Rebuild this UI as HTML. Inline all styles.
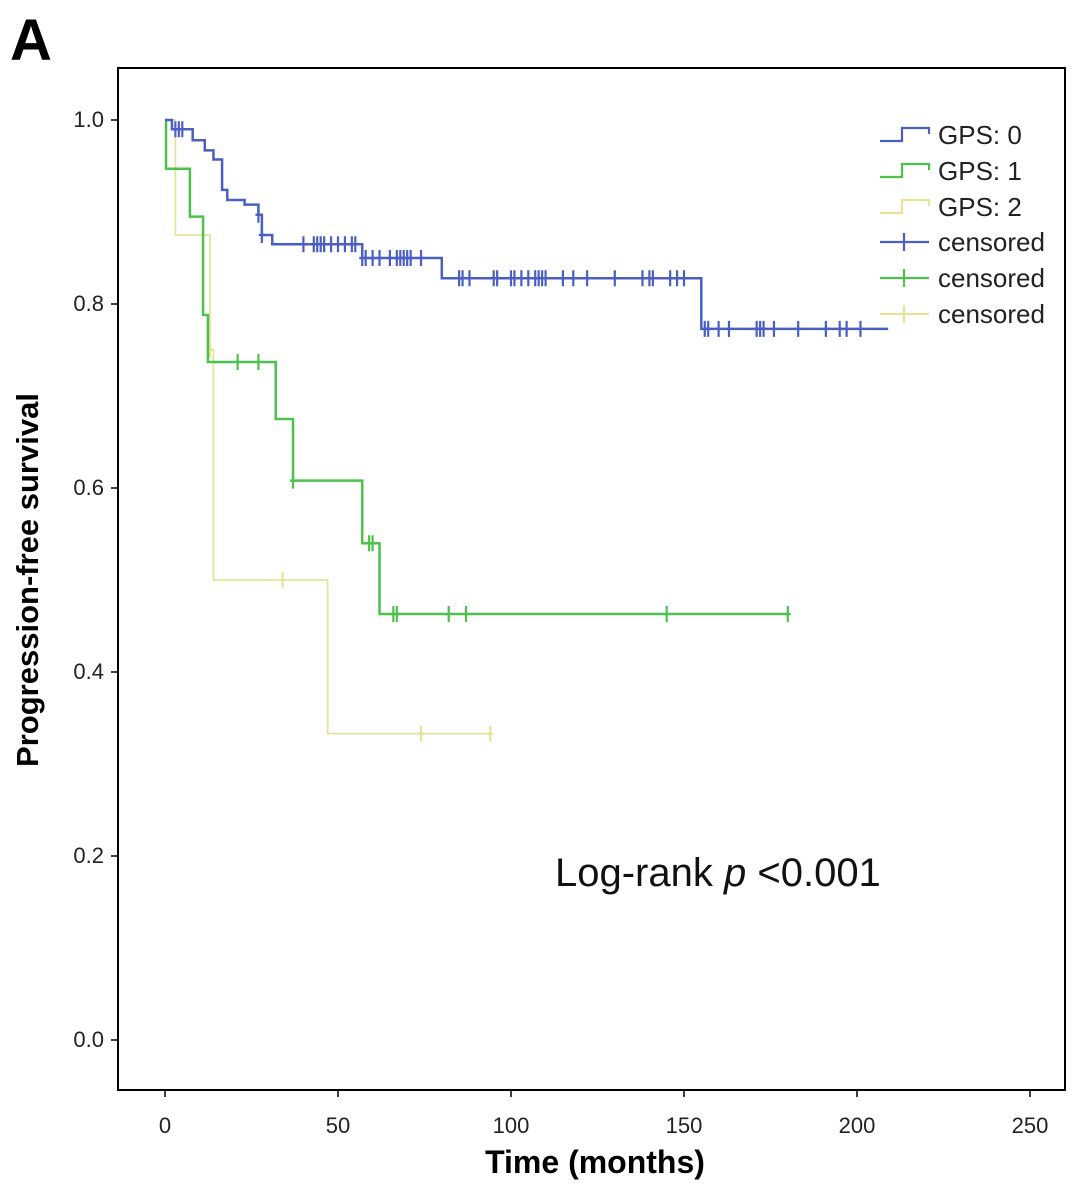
<!DOCTYPE html>
<html><head><meta charset="utf-8"><style>
html,body{margin:0;padding:0;background:#fff;width:1087px;height:1195px;overflow:hidden}
svg text{font-family:"Liberation Sans",Arial,sans-serif}
</style></head><body>
<svg id="chart" width="1087" height="1195" viewBox="0 0 1087 1195">
<text x="10" y="60" font-size="58" font-weight="bold" fill="#000">A</text>
<rect x="118" y="68" width="947" height="1022" fill="none" stroke="#000" stroke-width="2"/>
<g id="axes"></g>
<g id="curves"></g>
<g id="legend"></g>
<text x="38" y="580" font-size="31" font-weight="bold" text-anchor="middle" transform="rotate(-90 38 580)">Progression-free survival</text>
<text x="595" y="1173" font-size="32" font-weight="bold" text-anchor="middle">Time (months)</text>
<text x="555" y="886" font-size="40" fill="#111">Log-rank <tspan font-style="italic">p</tspan> &lt;0.001</text>
</svg>
<script>
const xTicks=[0,50,100,150,200,250];
const yTicks=[0.0,0.2,0.4,0.6,0.8,1.0];
const seriesNames=["GPS: 0","GPS: 1","GPS: 2"];
const colors=["#4a5fc1","#4cc24c","#e6e29c"];
// step curves: [time, survival] events
const gps0Steps=[[0,1.0],[2,0.99],[8,0.978],[11.5,0.967],[14,0.957],[16.5,0.924],[18,0.913],[23,0.908],[27,0.897],[28,0.875],[31,0.865],[57,0.85],[80,0.828],[155,0.773]];
const gps0End=209;
const gps1Steps=[[0,1.0],[0.3,0.947],[7.2,0.895],[11,0.788],[12.4,0.737],[32,0.675],[37,0.608],[57,0.54],[62,0.463]];
const gps1End=180;
const gps2Steps=[[0,1.0],[3,0.875],[13,0.75],[14,0.5],[47,0.333]];
const gps2End=94;
const gps0Cens=[3,4,5,27,28,40,43,44,45,46,48,50,52,54,55,57,58,60,62,65,67,68,69,70,71,74,85,86,88,95,96,100,101,103,105,107,108,109,110,115,118,122,130,138,140,141,146,148,150,156,157,160,163,171,172,173,176,183,191,195,197,201];
const gps1Cens=[21,27,37,59,60,66,67,82,87,145,180];
const gps2Cens=[13,34,74,94];

const X=t=>165+t*3.46;
const Y=s=>1040-s*920;
const NS="http://www.w3.org/2000/svg";
function mk(tag,attrs,parent){const e=document.createElementNS(NS,tag);for(const k in attrs)e.setAttribute(k,attrs[k]);parent.appendChild(e);return e;}
const axes=document.getElementById('axes');
xTicks.forEach(v=>{
  const l=mk('line',{x1:X(v),x2:X(v),y1:1090,y2:1097,stroke:'#000','stroke-width':1.5},axes);
  
  
  const t=mk('text',{x:X(v),y:1133,'font-size':22,'text-anchor':'middle',fill:'#222'},axes);
  t.textContent=String(v);
  
  
});
yTicks.forEach(v=>{
  const l=mk('line',{x1:111,x2:118,y1:Y(v),y2:Y(v),stroke:'#000','stroke-width':1.5},axes);
  
  
  const t=mk('text',{x:104,y:Y(v)+7,'font-size':22,'text-anchor':'end',fill:'#222'},axes);
  t.textContent=v.toFixed(1);
  
  
});
function survAt(steps,t){let s=steps[0][1];for(const p of steps){if(p[0]<=t)s=p[1];}return s;}
const curves=document.getElementById('curves');
const allSteps=[gps0Steps,gps1Steps,gps2Steps],ends=[gps0End,gps1End,gps2End],cens=[gps0Cens,gps1Cens,gps2Cens];
[2,1,0].forEach(i=>{
  const st=allSteps[i];let d='M'+X(st[0][0])+','+Y(st[0][1]);
  for(let k=1;k<st.length;k++){d+=' H'+X(st[k][0])+' V'+Y(st[k][1]);}
  d+=' H'+X(ends[i]);
  const p=mk('path',{d:d,fill:'none',stroke:colors[i],'stroke-width':i==2?1.8:2.5},curves);
  
  
  cens[i].forEach(t=>{
    const s=survAt(st,t);
    const c=mk('path',{d:'M'+X(t)+','+(Y(s)-8)+' V'+(Y(s)+8)+' M'+(X(t)-3)+','+Y(s)+' H'+(X(t)+3),stroke:colors[i],'stroke-width':2.2},curves);
    
    
  });
});
const lg=document.getElementById('legend');
const rows=[135,171,207,242,278,314];
const labels=[...seriesNames,"censored","censored","censored"];
rows.forEach((y,r)=>{
  const c=colors[r%3];
  let icon;
  if(r<3){icon=mk('path',{d:`M880,${y+6} H902 V${y-7} H929 V${y-1}`,fill:'none',stroke:c,'stroke-width':2.2},lg);}
  else{icon=mk('path',{d:`M880,${y} H929 M904,${y-9} V${y+9}`,fill:'none',stroke:c,'stroke-width':2.2},lg);}
  
  
  const t=mk('text',{x:938,y:y+9,'font-size':26,fill:'#222'},lg);
  t.textContent=labels[r];
  
  
});
</script>
</body></html>
